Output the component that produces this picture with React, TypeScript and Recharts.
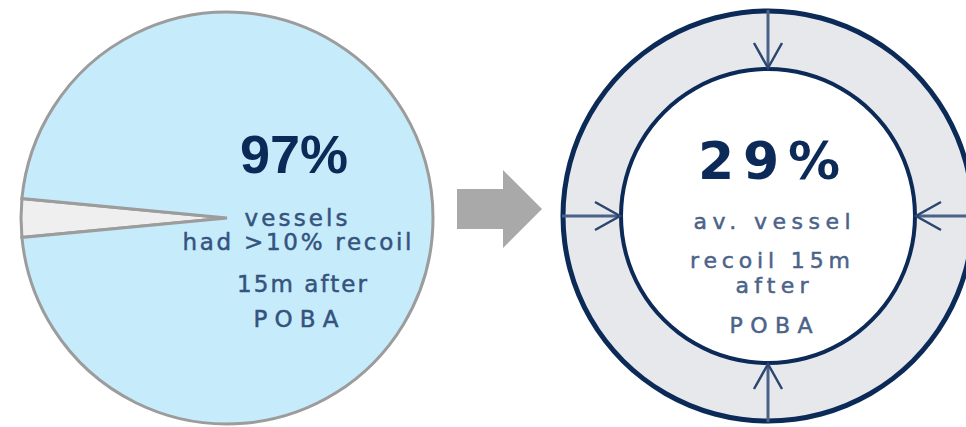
import React from 'react';
import { PieChart, Pie, Cell } from 'recharts';

// left pie: share of vessels by recoil 15 min after POBA
const recoilShares = [
  { name: '<=10% recoil', value: 3 },
  { name: '>10% recoil', value: 97 },
];
const recoilColors = ['#efefef', '#c6ecfb'];

// right ring: vessel wall (single band)
const vesselRing = [{ name: 'vessel wall', value: 100 }];

const leftHeadline = '97%';
const leftCaption = ['vessels', 'had >10% recoil', '15m after', 'POBA'];
const rightHeadline = '29%';
const rightCaption = ['av. vessel', 'recoil 15m', 'after', 'POBA'];

const W = 966;
const H = 427;

const LEFT = { cx: 227, cy: 218, r: 206 };
const RIGHT = { cx: 768, cy: 216, inner: 147, outer: 205 };

const NAVY = '#0c2a57';
const ARROW_BLUE = '#4a6188';

// start the small slice so it sits centred on the left (180deg)
const smallShare = recoilShares[0].value / recoilShares.reduce((s, d) => s + d.value, 0);
const leftStart = 180 - (smallShare * 360) / 2;

const leftLines = [
  { y: 226, w: 103, x: 296 },
  { y: 250, w: 229, x: 297 },
  { y: 292, w: 130, x: 302 },
  { y: 327, w: 85, x: 296 },
];
const rightLines = [
  { y: 229, w: 157, x: 772 },
  { y: 268, w: 160, x: 770 },
  { y: 293, w: 73, x: 772 },
  { y: 333, w: 83, x: 771 },
];

// drawn on top of the chart svg (pie sectors sit above Customized layers in v3)
const Overlay = () => {
  const { cx, cy, inner, outer } = RIGHT;
  const dirs = [
    [0, -1],
    [1, 0],
    [0, 1],
    [-1, 0],
  ];
  return (
    <svg
      width={W}
      height={H}
      style={{ position: 'absolute', left: 0, top: 0, pointerEvents: 'none' }}
    >
      {/* grey transition arrow */}
      <polygon
        points="457,189 503,189 503,170 542,209 503,248 503,229 457,229"
        fill="#a9a9a9"
      />

      {/* compression arrows on the ring */}
      {dirs.map(([dx, dy], i) => {
        const ax = cx + dx * (inner + 1);
        const ay = cy + dy * (inner + 1);
        const bx = ax + dx * 25;
        const by = ay + dy * 25;
        const px = -dy * 14;
        const py = dx * 14;
        return (
          <g key={i} stroke={ARROW_BLUE} fill="none">
            <line
              x1={cx + dx * (outer + 1)}
              y1={cy + dy * (outer + 1)}
              x2={ax}
              y2={ay}
              strokeWidth={3}
            />
            <polyline
              points={`${bx + px},${by + py} ${ax},${ay} ${bx - px},${by - py}`}
              stroke="#2d4670"
              strokeWidth={2.5}
            />
          </g>
        );
      })}

      {/* left texts */}
      <text
        x={294}
        y={173}
        textAnchor="middle"
        fontFamily="'Liberation Sans', Arial, sans-serif"
        fontWeight="bold"
        fontSize={54}
        fill={NAVY}
      >
        {leftHeadline}
      </text>
      {leftCaption.map((t, i) => (
        <text
          key={t}
          x={leftLines[i].x}
          y={leftLines[i].y}
          textAnchor="middle"
          textLength={leftLines[i].w}
          lengthAdjust="spacing"
          fontFamily="'DejaVu Sans', Verdana, sans-serif"
          fontSize={23}
          fill="#35537e"
          stroke="#35537e"
          strokeWidth={0.5}
        >
          {t}
        </text>
      ))}

      {/* right texts */}
      <text
        x={769}
        y={179}
        textAnchor="middle"
        textLength={142}
        lengthAdjust="spacing"
        fontFamily="'DejaVu Sans', Verdana, sans-serif"
        fontWeight="bold"
        fontSize={52}
        fill={NAVY}
      >
        {rightHeadline}
      </text>
      {rightCaption.map((t, i) => (
        <text
          key={t}
          x={rightLines[i].x}
          y={rightLines[i].y}
          textAnchor="middle"
          textLength={rightLines[i].w}
          lengthAdjust="spacing"
          fontFamily="'DejaVu Sans', Verdana, sans-serif"
          fontSize={22}
          fill="#4b6388"
          stroke="#4b6388"
          strokeWidth={0.5}
        >
          {t}
        </text>
      ))}
    </svg>
  );
};

export default function App() {
  return (
    <div style={{ position: 'absolute', left: 0, top: 0, width: W, height: H, background: '#fff' }}>
      <PieChart width={W} height={H} margin={{ top: 0, right: 0, bottom: 0, left: 0 }}>
        <Pie
          data={recoilShares}
          dataKey="value"
          cx={LEFT.cx}
          cy={LEFT.cy}
          outerRadius={LEFT.r}
          startAngle={leftStart}
          endAngle={leftStart + 360}
          stroke="#9c9c9c"
          strokeWidth={3}
          isAnimationActive={false}
        >
          {recoilShares.map((d, i) => (
            <Cell key={d.name} fill={recoilColors[i]} />
          ))}
        </Pie>

        <Pie
          data={vesselRing}
          dataKey="value"
          cx={RIGHT.cx}
          cy={RIGHT.cy}
          innerRadius={RIGHT.inner}
          outerRadius={RIGHT.outer}
          startAngle={90}
          endAngle={450}
          fill="#e6e8eb"
          stroke="none"
          isAnimationActive={false}
        />
        {/* outer and inner borders of the ring */}
        <Pie
          data={vesselRing}
          dataKey="value"
          cx={RIGHT.cx}
          cy={RIGHT.cy}
          innerRadius={RIGHT.outer - 2.5}
          outerRadius={RIGHT.outer + 2.5}
          startAngle={90}
          endAngle={450}
          fill={NAVY}
          stroke="none"
          isAnimationActive={false}
        />
        <Pie
          data={vesselRing}
          dataKey="value"
          cx={RIGHT.cx}
          cy={RIGHT.cy}
          innerRadius={RIGHT.inner - 2}
          outerRadius={RIGHT.inner + 2}
          startAngle={90}
          endAngle={450}
          fill={NAVY}
          stroke="none"
          isAnimationActive={false}
        />
      </PieChart>
      <Overlay />
    </div>
  );
}
